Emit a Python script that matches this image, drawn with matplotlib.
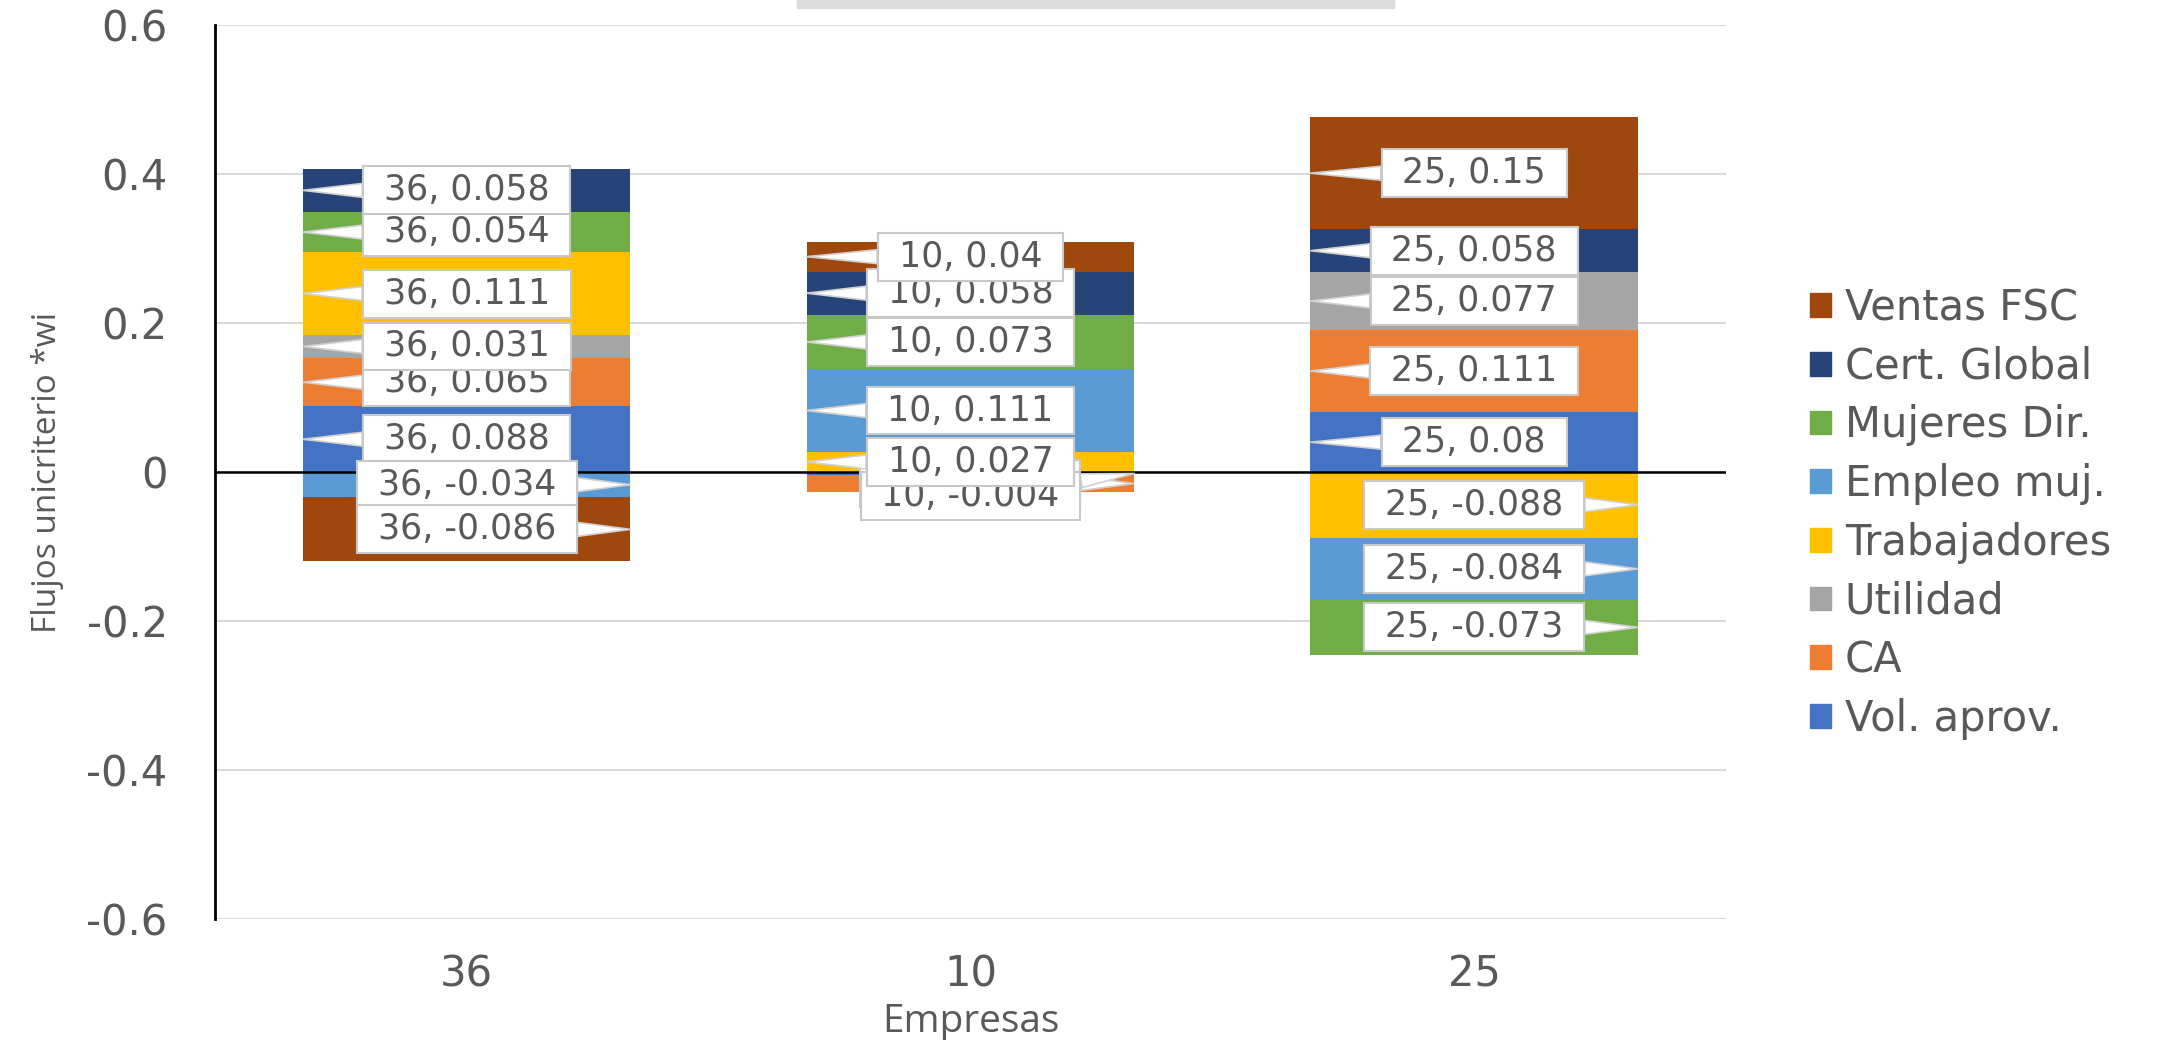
import numpy as np
import matplotlib
matplotlib.use('Agg')
from matplotlib import pyplot as plt
from matplotlib.patches import Patch, Rectangle
from matplotlib.path import Path

# data
empresas = ['36', '10', '25']
series = ['Vol. aprov.', 'CA', 'Utilidad', 'Trabajadores',
          'Empleo muj.', 'Mujeres Dir.', 'Cert. Global', 'Ventas FSC']
vol_aprov = [0.088, -0.004, 0.08]
ca = [0.065, -0.023, 0.111]
utilidad = [0.031, 0.0, 0.077]
trabajadores = [0.111, 0.027, -0.088]
empleo_muj = [-0.034, 0.111, -0.084]
mujeres_dir = [0.054, 0.073, -0.073]
cert_global = [0.058, 0.058, 0.058]
ventas_fsc = [-0.086, 0.04, 0.15]
yticks = [-0.6, -0.4, -0.2, 0, 0.2, 0.4, 0.6]
ytick_labels = ['-0.6', '-0.4', '-0.2', '0', '0.2', '0.4', '0.6']

colors = ['#4472C4', '#ED7D31', '#A5A5A5', '#FFC000',
          '#5B9BD5', '#70AD47', '#264478', '#9E480E']
values = [vol_aprov, ca, utilidad, trabajadores,
          empleo_muj, mujeres_dir, cert_global, ventas_fsc]

# callouts Excel moved off their segment: (bar, series) -> shift in y
label_nudge = {(1, 0): -0.03}


def wide_box(x0, y0, width, height, mutation_size):
    # square box, more padding left/right than top/bottom (like Excel callouts)
    px, py = 0.6 * mutation_size, 0.2 * mutation_size
    x0, y0 = x0 - px, y0 - py
    x1, y1 = x0 + width + 2 * px, y0 + height + 2 * py
    return Path([(x0, y0), (x1, y0), (x1, y1), (x0, y1), (x0, y0)], closed=True)


grey = '#595959'
fig = plt.figure(figsize=(21.73, 10.40), dpi=100)
ax = fig.add_axes([0.0989, 0.1163, 0.6954, 0.8597])

x = np.arange(len(empresas))
w = 0.65
pos = np.zeros(len(empresas))
neg = np.zeros(len(empresas))
for i, (vals, col) in enumerate(zip(values, colors)):
    vals = np.array(vals)
    bottom = np.where(vals >= 0, pos, neg)
    ax.bar(x, vals, w, bottom=bottom, color=col, zorder=2)
    centers = bottom + vals / 2
    for j, v in enumerate(vals):
        if v == 0:
            continue
        tip_x = x[j] - w / 2 if v > 0 else x[j] + w / 2
        dy = label_nudge.get((j, i), 0)
        z = 10 + i
        if (j, i) in label_nudge:
            z = 11.5
        ax.annotate(f'{empresas[j]}, {v:g}', xy=(tip_x, centers[j]),
                    xytext=(x[j], centers[j] + dy),
                    ha='center', va='center', fontsize=25, color=grey,
                    family='DejaVu Sans', zorder=z,
                    bbox=dict(boxstyle=wide_box, fc='white',
                              ec='#c8c8c8', lw=1.5),
                    arrowprops=dict(arrowstyle='wedge,tail_width=0.4',
                                    fc='white', ec='#d0d0d0', lw=1.2,
                                    shrinkA=0, shrinkB=0))
    pos += np.clip(vals, 0, None)
    neg += np.clip(vals, None, 0)

ax.axhline(0, color='black', lw=1.8, zorder=3)
ax.set_xlim(-0.5, 2.5)
ax.set_ylim(-0.6, 0.6)
ax.set_yticks(yticks)
ax.set_yticklabels(ytick_labels)
ax.set_xticks(x)
ax.set_xticklabels(empresas)
ax.tick_params(axis='both', length=0, labelsize=30, labelcolor=grey)
ax.tick_params(axis='y', pad=34)
ax.tick_params(axis='x', pad=25)
ax.grid(axis='y', color='#d9d9d9', lw=1.5, zorder=0)
ax.set_axisbelow(True)
for s in ['top', 'right', 'bottom']:
    ax.spines[s].set_visible(False)
ax.spines['left'].set_color('black')
ax.spines['left'].set_linewidth(2)

ax.set_ylabel('Flujos unicriterio *wi', fontsize=24, color=grey,
              family='Open Sans')
ax.yaxis.set_label_coords(-0.10, 0.5)
ax.set_xlabel('Empresas', fontsize=28, color=grey, family='Open Sans')
ax.xaxis.set_label_coords(0.5, -0.094)

handles = [Patch(color=c) for c in colors][::-1]
fig.legend(handles, series[::-1], loc='upper left',
           bbox_to_anchor=(0.833, 0.724), frameon=False,
           prop={'family': 'DejaVu Sans', 'size': 30},
           labelcolor=grey, handlelength=0.5, handleheight=0.5,
           handletextpad=0.33, labelspacing=0.4, borderpad=0,
           borderaxespad=0)

# cut-off title box at the top edge
fig.patches.append(Rectangle((797 / 2173, 1 - 8 / 1040), 597 / 2173, 8 / 1040,
                             transform=fig.transFigure, color='#dcdcdc'))

fig.savefig('out.png', dpi=100)
